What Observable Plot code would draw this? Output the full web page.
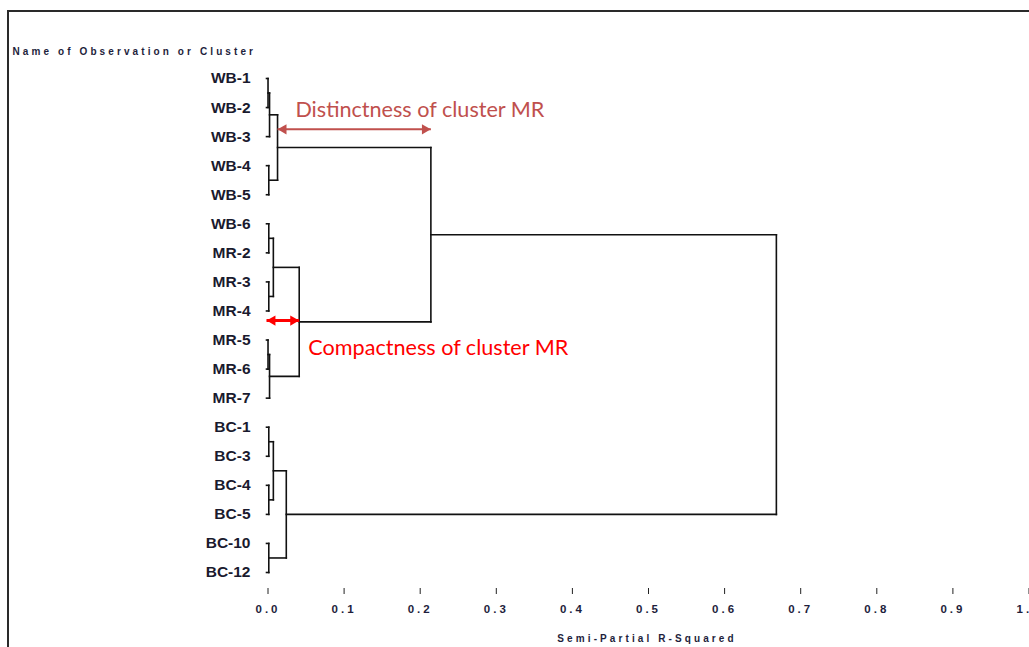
<!DOCTYPE html>
<html>
<head>
<meta charset="utf-8">
<script src="https://cdn.jsdelivr.net/npm/d3@7"></script>
<script src="https://cdn.jsdelivr.net/npm/@observablehq/plot@0.6"></script>
<style>
  html, body { margin: 0; padding: 0; background: #fff; overflow: hidden; }
  #wrap { position: relative; width: 1029px; height: 647px; }
  #border { position: absolute; left: 7px; top: 10px; width: 1100px; height: 700px;
            border-top: 2px solid #2a2a2a; border-left: 2px solid #2a2a2a; pointer-events: none; }
  #chart svg { position: absolute; left: 0; top: 0; }
  g[aria-label="x-axis tick label"] text { font-weight: bold; letter-spacing: 3px; fill: #1e1e3c; }
</style>
</head>
<body>
<div id="wrap"><div id="chart"></div><div id="border"></div></div>
<script>
// Leaves in display order (top to bottom)
const leaves = ["WB-1","WB-2","WB-3","WB-4","WB-5","WB-6","MR-2","MR-3","MR-4","MR-5","MR-6","MR-7",
                "BC-1","BC-3","BC-4","BC-5","BC-10","BC-12"];
// Merges: [new cluster id, child A, child B, semi-partial R-squared]
const merges = [
  ["C1",  "WB-1", "WB-2", 0.002],
  ["C2",  "C1",   "WB-3", 0.004],
  ["C3",  "WB-4", "WB-5", 0.003],
  ["WB",  "C2",   "C3",   0.0145],
  ["C4",  "WB-6", "MR-2", 0.003],
  ["C5",  "MR-3", "MR-4", 0.003],
  ["C6",  "C4",   "C5",   0.009],
  ["C7",  "MR-5", "MR-6", 0.002],
  ["C8",  "C7",   "MR-7", 0.004],
  ["MR",  "C6",   "C8",   0.043],
  ["WBMR","WB",   "MR",   0.216],
  ["C9",  "BC-1", "BC-3", 0.003],
  ["C10", "BC-4", "BC-5", 0.003],
  ["C11", "C9",   "C10",  0.009],
  ["C12", "BC-10","BC-12",0.003],
  ["BC",  "C11",  "C12",  0.026],
  ["ROOT","WBMR", "BC",   0.670]
];
const xTicks = [0, 0.1, 0.2, 0.3, 0.4, 0.5, 0.6, 0.7, 0.8, 0.9, 1.0];
const xTitle = "Semi-Partial R-Squared";
const yTitle = "Name of Observation or Cluster";
// Annotations: text, text position (x in R², y in leaf rows), arrow between two cluster heights
const annoText = ["Distinctness of cluster MR", "Compactness of cluster MR"];
const annoTextX = [0.038, 0.055];
const annoTextY = [1.1, 9.26];
const annoFrom = ["WB", null];      // null = 0
const annoTo = ["WBMR", "MR"];
const annoArrowY = [1.75, 8.33];
const annoColor = ["#c0504d", "#ff0000"];
const annoWidth = [2, 3];

// Build node positions
const node = new Map();
leaves.forEach((d, i) => node.set(d, {x: 0, y: i}));
const segs = [];
for (const [id, a, b, h] of merges) {
  const A = node.get(a), B = node.get(b);
  segs.push({x1: A.x, y1: A.y, x2: h, y2: A.y});
  segs.push({x1: B.x, y1: B.y, x2: h, y2: B.y});
  segs.push({x1: h, y1: A.y, x2: h, y2: B.y});
  node.set(id, {x: h, y: (A.y + B.y) / 2});
}
const height = id => id == null ? 0 : node.get(id).x;
const annos = annoText.map((t, i) => ({
  text: t, tx: annoTextX[i], ty: annoTextY[i],
  x1: height(annoFrom[i]), x2: height(annoTo[i]), y: annoArrowY[i],
  color: annoColor[i], w: annoWidth[i]
}));

const chart = Plot.plot({
  width: 1029,
  height: 647,
  marginTop: 0, marginLeft: 0, marginRight: 0, marginBottom: 59,
  style: {fontFamily: "'Liberation Sans', Arial, sans-serif", background: "transparent", overflow: "visible"},
  x: {domain: [0, 1], range: [266, 1027]},
  y: {domain: [0, 17], range: [78, 572], axis: null},
  marks: [
    Plot.axisX({ticks: xTicks, tickFormat: d3.format(".1f"), tickSize: 6, tickPadding: 10,
                fontSize: 11.5, label: null, stroke: "#222", dx: 1.5}),
    Plot.link(segs, {x1: "x1", y1: "y1", x2: "x2", y2: "y2", stroke: "#111",
                     strokeWidth: 1.6, strokeLinecap: "square"}),
    Plot.text(leaves, {x: 0, y: (d, i) => i, text: d => d, textAnchor: "end", dx: -16,
                       fontWeight: "bold", fontSize: 15.5, fill: "#1a1a2e"}),
    // annotation arrows
    ...annos.map(a => Plot.link([a], {x1: "x1", x2: "x2", y1: "y", y2: "y", stroke: a.color,
                     strokeWidth: a.w})),
    ...annos.map(a => Plot.dot([a], {x: "x1", y: "y", symbol: "triangle", rotate: -90, r: 3.8,
                     fill: a.color, stroke: "none", dx: 6})),
    ...annos.map(a => Plot.dot([a], {x: "x2", y: "y", symbol: "triangle", rotate: 90, r: 3.8,
                     fill: a.color, stroke: "none", dx: -6})),
    Plot.text(annos, {x: "tx", y: "ty", text: "text", fill: "color", textAnchor: "start",
                      lineAnchor: "middle", fontSize: 21.6, fontFamily: "Lato, 'Open Sans', sans-serif"}),
    // titles
    Plot.text([yTitle], {frameAnchor: "top-left", dx: 12, dy: 51, textAnchor: "start",
                         lineAnchor: "middle", fontSize: 10, fontWeight: "bold", fill: "#1e1e3c"}),
    Plot.text([xTitle], {x: 0.5, frameAnchor: "bottom", dy: 50, textAnchor: "middle",
                         lineAnchor: "middle", fontSize: 10, fontWeight: "bold", fill: "#1e1e3c"})
  ]
});
// letter-spaced small titles (as in the reference's print-style font)
d3.select(chart).selectAll("text")
  .filter(function () { return this.textContent === yTitle; })
  .style("letter-spacing", "3.1px");
d3.select(chart).selectAll("text")
  .filter(function () { return this.textContent === xTitle; })
  .style("letter-spacing", "3.1px");
document.getElementById("chart").appendChild(chart);
</script>
</body>
</html>
